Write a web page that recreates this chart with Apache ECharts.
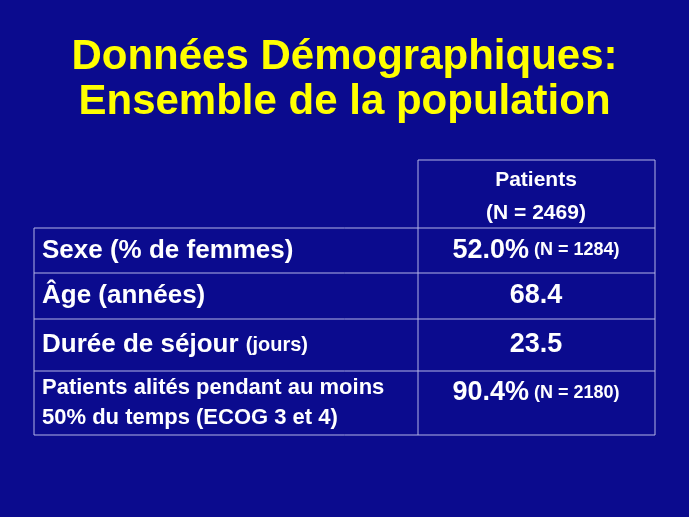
<!DOCTYPE html>
<html>
<head>
<meta charset="utf-8">
<script src="https://cdn.jsdelivr.net/npm/echarts@6/dist/echarts.min.js"></script>
<style>
html,body{margin:0;padding:0;background:#0b0b8e;}
#main{width:689px;height:517px;}
</style>
</head>
<body>
<div id="main"></div>
<script>
// contenu du tableau
var titre = ['Données Démographiques:', 'Ensemble de la population'];
var enTete = ['Patients', '(N = 2469)'];
var libelles = [
  [{t: 'Sexe (% de femmes)', s: 'b'}],
  [{t: 'Âge (années)', s: 'b'}],
  [{t: 'Durée de séjour ', s: 'b'}, {t: '(jours)', s: 'p'}],
  [{t: 'Patients alités pendant au moins\n50% du temps (ECOG 3 et 4)', s: 'm'}]
];
var valeurs = ['52.0%', '68.4', '23.5', '90.4%'];
var effectifs = ['(N = 1284)', '', '', '(N = 2180)'];

var lignesY = [160, 228, 273, 319, 371, 435];
var xG = 34, xM = 418, xD = 655;
var trait = {stroke: '#b4b4e6', lineWidth: 1};

var myChart = echarts.init(document.getElementById('main'));
var elems = [];

titre.forEach(function(l, i) {
  elems.push({type: 'text', x: 344.5, y: 57 + i * 45, style: {
    text: l, fill: '#ffff00', font: 'bold 42px Arial, "Liberation Sans"',
    align: 'center', verticalAlign: 'middle'}});
});

// traits
elems.push({type: 'line', shape: {x1: xM, y1: lignesY[0], x2: xD, y2: lignesY[0]}, style: trait});
for (var i = 1; i < lignesY.length; i++) {
  elems.push({type: 'line', shape: {x1: xG, y1: lignesY[i], x2: xD, y2: lignesY[i]}, style: trait});
}
elems.push({type: 'line', shape: {x1: xG, y1: lignesY[1], x2: xG, y2: lignesY[5]}, style: trait});
elems.push({type: 'line', shape: {x1: xM, y1: lignesY[0], x2: xM, y2: lignesY[5]}, style: trait});
elems.push({type: 'line', shape: {x1: xD, y1: lignesY[0], x2: xD, y2: lignesY[5]}, style: trait});

enTete.forEach(function(l, i) {
  elems.push({type: 'text', x: 536, y: 180 + i * 33, style: {
    text: l, fill: '#fff', font: 'bold 21px Arial, "Liberation Sans"',
    align: 'center', verticalAlign: 'middle'}});
});

var rich = {
  b: {fill: '#fff', font: 'bold 26px Arial, "Liberation Sans"'},
  p: {fill: '#fff', font: 'bold 20px Arial, "Liberation Sans"'},
  m: {fill: '#fff', font: 'bold 22px Arial, "Liberation Sans"', lineHeight: 30},
  v: {fill: '#fff', font: 'bold 27px Arial, "Liberation Sans"'},
  n: {fill: '#fff', font: 'bold 18px Arial, "Liberation Sans"'}
};

libelles.forEach(function(parts, i) {
  var y0 = lignesY[i + 1], y1 = lignesY[i + 2];
  var txt = parts.map(function(p) {
    return p.t.split('\n').map(function(s) { return '{' + p.s + '|' + s + '}'; }).join('\n');
  }).join('');
  elems.push({type: 'text', x: xG + 8, y: (y0 + y1) / 2, style: {
    text: txt, rich: rich, align: 'left', verticalAlign: 'middle'}});
  var vt = '{v|' + valeurs[i] + '}' + (effectifs[i] ? '{n| ' + effectifs[i] + '}' : '');
  var vy = i === 3 ? y0 + 22 : (y0 + y1) / 2;
  elems.push({type: 'text', x: 536, y: vy, style: {
    text: vt, rich: rich, align: 'center', verticalAlign: 'middle'}});
});

myChart.setOption({
  backgroundColor: '#0b0b8e',
  graphic: {elements: elems}
});
</script>
</body>
</html>
